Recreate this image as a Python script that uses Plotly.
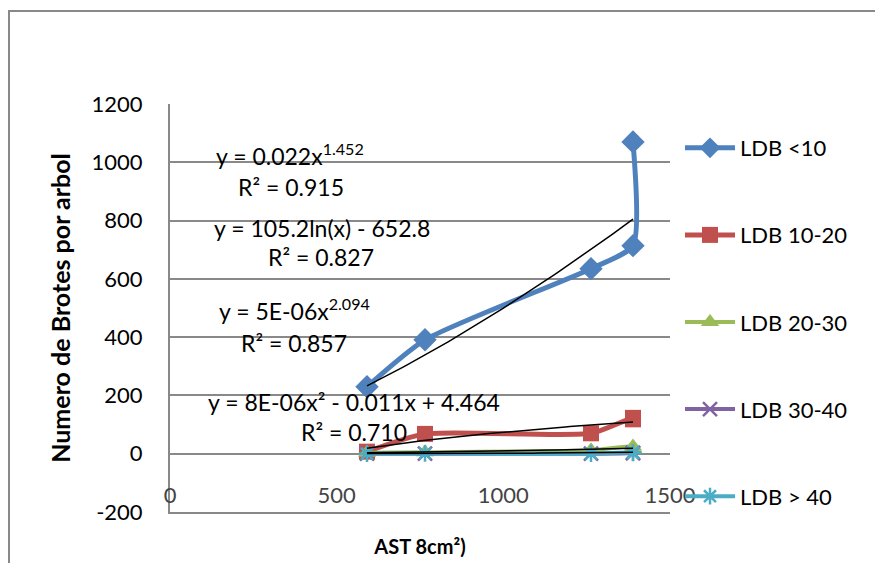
import numpy as np
import plotly.graph_objects as go

# ---- data ----
ast = [591, 765, 1263, 1389, 1389]
ldb_lt10 = [230, 391, 635, 714, 1070]
ldb_10_20 = [7, 68, 70, 123, 118]
ldb_20_30 = [3, 5, 12, 25, 18]
ldb_30_40 = [0, 0, 0, 2, 3]
ldb_gt40 = [0, 1, 0, 4, 3]

series_names = ["LDB <10", "LDB 10-20", "LDB 20-30", "LDB 30-40", "LDB > 40"]
series_values = [ldb_lt10, ldb_10_20, ldb_20_30, ldb_30_40, ldb_gt40]
colors = ["#4F81BD", "#C0504D", "#9BBB59", "#8064A2", "#4BACC6"]
symbols = ["diamond", "square", "triangle-up", "x-thin", "asterisk"]

# trendline coefficients, as shown in the chart's equations
pow_blue = (0.022, 1.452)
log_red = (105.2, -652.8)
pow_green = (5e-06, 2.094)
poly_purple = (8e-06, -0.011, 4.464)

y_ticks = [-200, 0, 200, 400, 600, 800, 1000, 1200]
y_tick_labels = ["-200", "0", "200", "400", "600", "800", "1000", "1200"]
x_ticks = [0, 500, 1000, 1500]
x_tick_labels = ["0", "500", "1000", "1500"]

FONT = "Lato"
FS = 22

fig = go.Figure()

for i, (name, vals) in enumerate(zip(series_names, series_values)):
    msize = {"diamond": 18, "square": 16, "triangle-up": 16, "x-thin": 14, "asterisk": 14}[symbols[i]]
    marker = dict(symbol=symbols[i], size=msize, color=colors[i])
    if symbols[i] in ("x-thin", "asterisk"):
        marker["line"] = dict(color=colors[i], width=2.5)
    fig.add_trace(go.Scatter(
        x=ast, y=vals, name=name, mode="lines+markers",
        line=dict(color=colors[i], width=5 if i < 2 else 4, shape="spline", smoothing=0.6),
        marker=marker, legendgroup=name,
    ))

xs = np.linspace(min(ast), max(ast), 60)
trends = [
    pow_blue[0] * xs ** pow_blue[1],
    log_red[0] * np.log(xs) + log_red[1],
    pow_green[0] * xs ** pow_green[1],
    poly_purple[0] * xs ** 2 + poly_purple[1] * xs + poly_purple[2],
]
for t in trends:
    fig.add_trace(go.Scatter(x=xs, y=t, mode="lines", showlegend=False,
                             line=dict(color="black", width=1.5), hoverinfo="skip"))

eq_font = dict(family=FONT, size=23, color="black")
annots = [
    (360, 1026, "y = 0.022x<sup>1.452</sup>"),
    (363, 916, "R² = 0.915"),
    (456, 775, "y = 105.2ln(x) - 652.8"),
    (453, 676, "R² = 0.827"),
    (372, 495, "y = 5E-06x<sup>2.094</sup>"),
    (372, 381, "R² = 0.857"),
    (552, 178, "y = 8E-06x² - 0.011x + 4.464"),
    (552, 75, "R² = 0.710"),
]
for ax_, ay_, txt in annots:
    fig.add_annotation(x=ax_, y=ay_, xref="x", yref="y", text=txt, showarrow=False,
                       font=eq_font, xanchor="center", yanchor="middle")

# outer chart border
fig.add_shape(type="rect", xref="paper", yref="paper",
              x0=(9 - 170) / 500, x1=1.6, y0=-0.5, y1=(512 - 11) / 408,
              line=dict(color="#898989", width=2), fillcolor="rgba(0,0,0,0)", layer="below")

fig.update_layout(
    width=875, height=555,
    margin=dict(l=162, r=213, t=96, b=51, autoexpand=False),
    paper_bgcolor="white", plot_bgcolor="white",
    font=dict(family=FONT, size=FS, color="black"),
    showlegend=True,
    legend=dict(x=1.02, xanchor="left", y=(512 - 127) / 408, yanchor="top",
                font=dict(family=FONT, size=FS, color="black"),
                tracegroupgap=55.5, bgcolor="rgba(0,0,0,0)", itemwidth=50),
    xaxis=dict(range=[0, 1500], tickvals=x_ticks, ticktext=x_tick_labels, showgrid=False, zeroline=False,
               showline=True, linecolor="#898989", linewidth=2, automargin=False,
               ticks="inside", ticklen=6, tickcolor="rgba(0,0,0,0)",
               ticklabelposition="inside", ticklabeloverflow="allow",
               tickfont=dict(family=FONT, size=FS),
               title=dict(text="<b>AST 8cm²)</b>", font=dict(family=FONT, size=20), standoff=33)),
    yaxis=dict(range=[-200, 1200], tickvals=y_ticks, ticktext=y_tick_labels, showgrid=True,
               gridcolor="#898989", gridwidth=2,
               zeroline=False, showline=True, linecolor="#898989", linewidth=2, automargin=False,
               ticks="", ticklabelstandoff=21, tickfont=dict(family=FONT, size=FS),
               title=dict(text="<b>Numero de Brotes por arbol</b>", font=dict(family=FONT, size=25), standoff=14)),
)

fig.write_html("out.html")
